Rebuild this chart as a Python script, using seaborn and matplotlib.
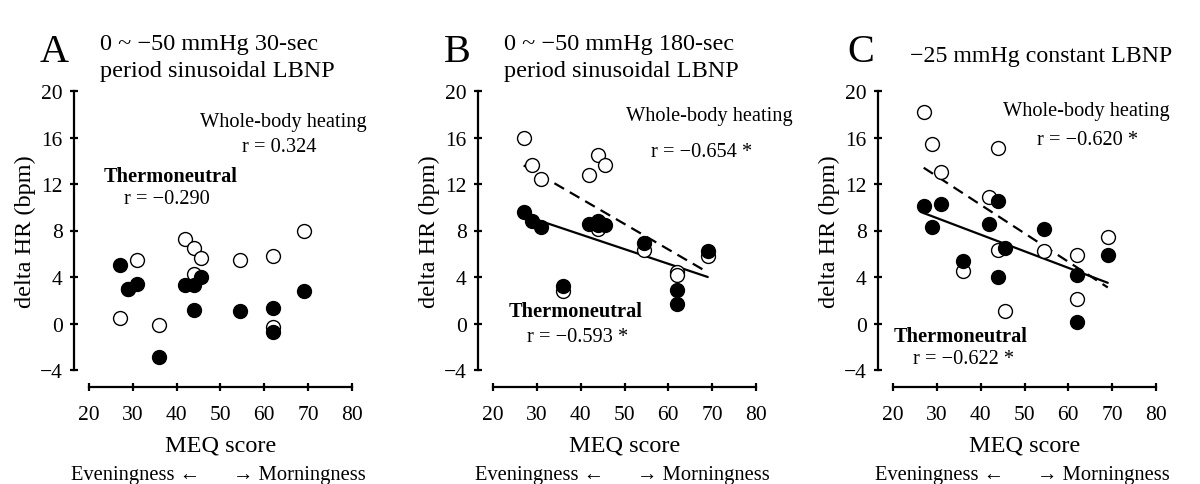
import numpy as np
import pandas as pd
import matplotlib
matplotlib.use("Agg")
import matplotlib.pyplot as plt
import seaborn as sns

sns.set_style("white")
plt.rcParams['font.family'] = ['Liberation Serif', 'DejaVu Serif']
plt.rcParams['axes.unicode_minus'] = True
plt.rcParams['text.color'] = 'black'
plt.rcParams['axes.labelcolor'] = 'black'
plt.rcParams['xtick.color'] = 'black'
plt.rcParams['ytick.color'] = 'black'

# MEQ score per subject (same for every panel)
meq = [27, 29, 31, 36, 42, 44, 44, 45.5, 54.5, 62, 62, 69]

# delta HR, panel A (30-sec sinusoidal)
a_heat = [0.5, 3.0, 5.5, -0.1, 7.3, 6.5, 4.3, 5.6, 5.5, 5.8, -0.3, 8.0]
a_neut = [5.0, 3.0, 3.4, -2.9, 3.3, 3.3, 1.2, 4.0, 1.1, 1.3, -0.7, 2.8]
# panel B (180-sec sinusoidal)
b_heat = [16.0, 13.6, 12.4, 2.8, 12.8, 14.5, 8.1, 13.6, 6.3, 4.4, 4.2, 5.8]
b_neut = [9.6, 8.8, 8.3, 3.2, 8.6, 8.8, 8.5, 8.5, 6.9, 2.9, 1.7, 6.2]
# panel C (constant -25 mmHg)
c_heat = [18.2, 15.4, 13.0, 4.5, 10.9, 15.1, 6.3, 1.1, 6.2, 5.9, 2.1, 7.4]
c_neut = [10.1, 8.3, 10.3, 5.4, 8.6, 10.5, 4.0, 6.5, 8.1, 4.2, 0.1, 5.9]

# regression line ends (MEQ 27 -> 69)
fit_x = [27, 69]
b_fit_heat = [13.6, 4.4]
b_fit_neut = [9.3, 4.0]
c_fit_heat = [13.4, 3.1]
c_fit_neut = [9.5, 3.5]

letters = ["A", "B", "C"]
titles = ["0 ~ \u221250 mmHg 30-sec\nperiod sinusoidal LBNP",
          "0 ~ \u221250 mmHg 180-sec\nperiod sinusoidal LBNP",
          "\u221225 mmHg constant LBNP"]
heat_r = ["r = 0.324", "r = \u22120.654 *", "r = \u22120.620 *"]
neut_r = ["r = \u22120.290", "r = \u22120.593 *", "r = \u22120.622 *"]

W, H = 1200, 485
fig = plt.figure(figsize=(12, 4.85), dpi=100)

lefts = [89, 493, 893]
panels = [(a_heat, a_neut, None, None),
          (b_heat, b_neut, b_fit_heat, b_fit_neut),
          (c_heat, c_neut, c_fit_heat, c_fit_neut)]
# label positions in data units: heat label, heat r, neut label, neut r
label_pos = [
    [(64.3, 17.0), (63.4, 14.8), (38.5, 12.3), (37.8, 10.4)],
    [(69.3, 17.5), (67.7, 14.4), (38.9, 0.64), (39.4, -1.5)],
    [(64.0, 17.9), (64.5, 15.4), (35.3, -1.5), (36.0, -3.4)],
]

for i, (heat, neut, fh, fn) in enumerate(panels):
    ax = fig.add_axes([lefts[i] / W, (H - 371) / H, 263 / W, 279 / H])
    df = pd.DataFrame({"meq": meq, "heat": heat, "neut": neut})

    if fh is not None:
        sns.lineplot(x=fit_x, y=fh, ax=ax, color="black", lw=1.6,
                     linestyle=(0, (5, 3)), zorder=1)
        sns.lineplot(x=fit_x, y=fn, ax=ax, color="black", lw=1.6, zorder=1)

    sns.scatterplot(data=df, x="meq", y="heat", ax=ax, s=100, color="white",
                    edgecolor="black", linewidth=1.0, zorder=2, clip_on=False)
    sns.scatterplot(data=df, x="meq", y="neut", ax=ax, s=100, color="black",
                    edgecolor="black", linewidth=1.0, zorder=3, clip_on=False)

    ax.set_xlim(20, 80)
    ax.set_ylim(-4, 20)
    ax.set_xticks(range(20, 81, 10))
    ax.set_yticks(range(-4, 21, 4))
    ax.tick_params(bottom=True, left=True, direction="inout", length=6,
                   width=1.6, labelsize=15.5, colors="black", pad=5)
    ax.tick_params(axis="x", pad=10)
    for s in ["left", "bottom"]:
        ax.spines[s].set_linewidth(1.6)
        ax.spines[s].set_color("black")
    sns.despine(ax=ax, offset={"left": 11, "bottom": 12}, trim=True)

    ax.set_xlabel("MEQ score", fontsize=17.5, labelpad=8)
    ax.set_ylabel("delta HR (bpm)", fontsize=17.5, labelpad=3)

    hp, hr, np_, nr = label_pos[i]
    ax.text(*hp, "Whole-body heating", fontsize=14.7, ha="center", va="baseline")
    ax.text(*hr, heat_r[i], fontsize=14.7, ha="center", va="baseline")
    ax.text(*np_, "Thermoneutral", fontsize=14.7, ha="center", va="baseline",
            fontweight="bold")
    ax.text(*nr, neut_r[i], fontsize=14.7, ha="center", va="baseline")

    # panel letter and title (figure pixel coords)
    x0 = lefts[i] - 89
    fig.text((x0 + 40 + (3 if i == 2 else 0)) / W, (H - 62) / H, letters[i],
             fontsize=29, ha="left", va="baseline")
    if i < 2:
        fig.text((x0 + 100) / W, (H - 50) / H, titles[i].split("\n")[0],
                 fontsize=17.5, ha="left", va="baseline")
        fig.text((x0 + 100) / W, (H - 77) / H, titles[i].split("\n")[1],
                 fontsize=17.5, ha="left", va="baseline")
    else:
        fig.text((x0 + 106) / W, (H - 62) / H, titles[i],
                 fontsize=17.2, ha="left", va="baseline")

    fig.text((x0 + 200) / W, (H - 480) / H, "Eveningness \u2190",
             fontsize=14.8, ha="right", va="baseline")
    fig.text((x0 + 233) / W, (H - 480) / H, "\u2192 Morningness",
             fontsize=14.8, ha="left", va="baseline")

fig.savefig("out.png", dpi=100)
